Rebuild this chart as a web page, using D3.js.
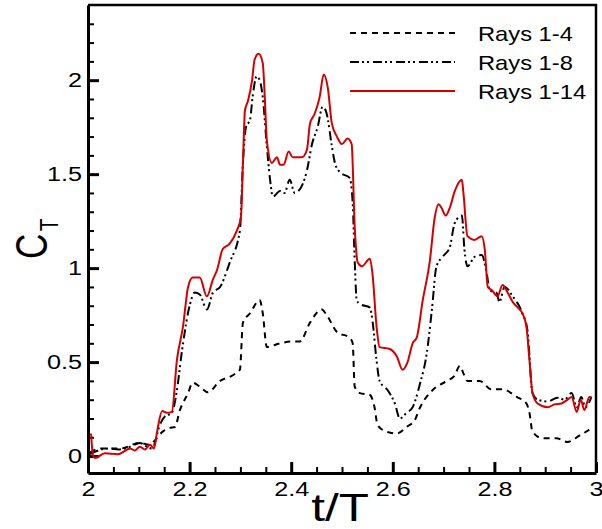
<!DOCTYPE html>
<html>
<head>
<meta charset="utf-8">
<script src="https://cdn.jsdelivr.net/npm/d3@7"></script>
<style>
  body { margin: 0; background: #fff; }
  svg { font-family: "Liberation Sans", Arial, sans-serif; }
  .axis text { font-size: 21px; fill: #000; }
  .axis path { stroke: #000; stroke-width: 3px; }
  .axis line { stroke: #000; stroke-width: 2px; }
  .legend text { font-size: 21px; }
</style>
</head>
<body>
<svg width="602" height="529"></svg>
<script>
// Rays 1-4 (dashed)
var tRays4 = [2.004, 2.024, 2.063, 2.102, 2.122, 2.132, 2.147, 2.161, 2.171, 2.181,
  2.197, 2.206, 2.220, 2.236, 2.260, 2.285, 2.299, 2.305, 2.319, 2.338, 2.344, 2.352,
  2.378, 2.403, 2.417, 2.437, 2.460, 2.470, 2.490, 2.515, 2.521, 2.525, 2.535, 2.555,
  2.564, 2.570, 2.588, 2.608, 2.627, 2.643, 2.653, 2.678, 2.706, 2.722, 2.732, 2.739,
  2.747, 2.771, 2.794, 2.816, 2.844, 2.863, 2.869, 2.875, 2.895, 2.922, 2.944, 2.968, 2.987];
var cRays4 = [0.02, 0.04, 0.04, 0.07, 0.06, 0.085, 0.13, 0.15, 0.155, 0.245,
  0.335, 0.39, 0.37, 0.34, 0.40, 0.43, 0.46, 0.71, 0.76, 0.83, 0.76, 0.58,
  0.60, 0.61, 0.61, 0.71, 0.78, 0.75, 0.66, 0.63, 0.60, 0.37, 0.335, 0.325,
  0.26, 0.165, 0.13, 0.12, 0.155, 0.19, 0.255, 0.35, 0.40, 0.43, 0.48, 0.44,
  0.40, 0.40, 0.355, 0.355, 0.315, 0.28, 0.23, 0.13, 0.095, 0.095, 0.075, 0.11, 0.14];

// Rays 1-8 (dash-dot-dot)
var tRays8 = [2.004, 2.020, 2.040, 2.060, 2.083, 2.102, 2.116, 2.126, 2.142, 2.151,
  2.165, 2.175, 2.185, 2.201, 2.210, 2.220, 2.234, 2.246, 2.260, 2.279, 2.299, 2.305,
  2.311, 2.319, 2.324, 2.332, 2.338, 2.344, 2.352, 2.358, 2.364, 2.378, 2.387, 2.397,
  2.407, 2.423, 2.431, 2.441, 2.452, 2.462, 2.470, 2.480, 2.486, 2.496, 2.515, 2.521,
  2.525, 2.529, 2.535, 2.555, 2.560, 2.568, 2.574, 2.590, 2.604, 2.614, 2.627, 2.639,
  2.653, 2.667, 2.677, 2.686, 2.698, 2.712, 2.722, 2.736, 2.741, 2.747, 2.761, 2.775,
  2.785, 2.791, 2.804, 2.810, 2.820, 2.836, 2.855, 2.865, 2.875, 2.885, 2.905, 2.924,
  2.938, 2.952, 2.962, 2.971, 2.979, 2.991];
var cRays8 = [0.01, 0.03, 0.04, 0.035, 0.05, 0.07, 0.05, 0.04, 0.17, 0.21,
  0.23, 0.35, 0.56, 0.81, 0.87, 0.86, 0.78, 0.87, 0.90, 1.03, 1.20, 1.56,
  1.75, 1.79, 1.91, 2.02, 2.00, 1.91, 1.65, 1.48, 1.38, 1.41, 1.40, 1.47,
  1.40, 1.45, 1.52, 1.66, 1.75, 1.86, 1.82, 1.65, 1.56, 1.51, 1.48, 1.35,
  1.04, 0.83, 0.81, 0.79, 0.72, 0.51, 0.40, 0.35, 0.28, 0.20, 0.23, 0.26,
  0.38, 0.55, 0.78, 1.01, 1.06, 1.11, 1.24, 1.28, 1.10, 1.01, 1.06, 1.07,
  0.97, 0.88, 0.87, 0.82, 0.90, 0.85, 0.76, 0.67, 0.335, 0.30, 0.29, 0.31,
  0.30, 0.335, 0.26, 0.315, 0.26, 0.315];

// Rays 1-14 (solid red)
var tRays14 = [2.006, 2.010, 2.014, 2.033, 2.059, 2.083, 2.092, 2.102, 2.112, 2.122,
  2.130, 2.136, 2.146, 2.155, 2.165, 2.175, 2.187, 2.197, 2.206, 2.220, 2.234, 2.246,
  2.254, 2.265, 2.279, 2.293, 2.301, 2.305, 2.309, 2.315, 2.323, 2.328, 2.336, 2.344,
  2.348, 2.352, 2.362, 2.372, 2.378, 2.385, 2.395, 2.403, 2.421, 2.431, 2.437, 2.446,
  2.456, 2.464, 2.472, 2.480, 2.490, 2.500, 2.511, 2.519, 2.525, 2.531, 2.539, 2.555,
  2.560, 2.568, 2.574, 2.594, 2.608, 2.619, 2.629, 2.639, 2.647, 2.659, 2.673, 2.682,
  2.690, 2.696, 2.704, 2.712, 2.722, 2.736, 2.739, 2.747, 2.761, 2.775, 2.781, 2.787,
  2.796, 2.806, 2.816, 2.826, 2.836, 2.846, 2.855, 2.863, 2.869, 2.875, 2.885, 2.905,
  2.918, 2.932, 2.944, 2.952, 2.962, 2.970, 2.977, 2.987, 2.991];
var cRays14 = [0.12, 0.0, -0.01, 0.015, 0.01, 0.04, 0.03, 0.05, 0.035, 0.06,
  0.04, 0.13, 0.24, 0.23, 0.235, 0.51, 0.69, 0.90, 0.95, 0.95, 0.85, 0.94,
  0.99, 1.10, 1.13, 1.20, 1.27, 1.56, 1.84, 1.89, 2.00, 2.11, 2.14, 2.09,
  1.91, 1.68, 1.56, 1.59, 1.55, 1.55, 1.62, 1.59, 1.59, 1.63, 1.77, 1.82,
  1.91, 2.03, 1.96, 1.77, 1.70, 1.66, 1.69, 1.66, 1.22, 1.03, 1.01, 1.05,
  0.97, 0.69, 0.58, 0.57, 0.53, 0.46, 0.50, 0.60, 0.63, 0.83, 1.04, 1.26,
  1.34, 1.32, 1.28, 1.32, 1.41, 1.47, 1.40, 1.17, 1.15, 1.17, 1.10, 0.90,
  0.88, 0.85, 0.91, 0.87, 0.82, 0.79, 0.76, 0.69, 0.51, 0.335, 0.28, 0.26,
  0.275, 0.28, 0.30, 0.315, 0.235, 0.30, 0.245, 0.315, 0.315];

var seriesNames = ["Rays 1-4", "Rays 1-8", "Rays 1-14"];
var xTicks = [2, 2.2, 2.4, 2.6, 2.8, 3];
var yTicks = [0, 0.5, 1, 1.5, 2];

var series = [
  { name: seriesNames[0], t: tRays4, c: cRays4, color: "#000", dash: "6,5" },
  { name: seriesNames[1], t: tRays8, c: cRays8, color: "#000", dash: "9,3,2,3,2,4" },
  { name: seriesNames[2], t: tRays14, c: cRays14, color: "#d40000", dash: null }
];

var STRETCH = 1.2;  // the original font is drawn wider than Arial

var svg = d3.select("svg"),
    margin = {top: 5, right: 6, bottom: 56, left: 88},
    width = +svg.attr("width") - margin.left - margin.right,
    height = +svg.attr("height") - margin.top - margin.bottom;

var x = d3.scaleLinear().domain([2, 3]).range([0, width]);
var y = d3.scaleLinear().domain([-0.09, 2.4]).range([height, 0]);

var g = svg.append("g")
    .attr("transform", "translate(" + margin.left + "," + margin.top + ")");

g.append("clipPath").attr("id", "clip")
  .append("rect").attr("width", width).attr("height", height);

// minor ticks
var xMinor = d3.range(2, 3.001, 0.05).filter(function(v) {
  return Math.abs(v * 5 - Math.round(v * 5)) > 1e-6;
});
var yMinor = d3.range(0, 2.4, 0.1).filter(function(v) {
  return Math.abs(v * 2 - Math.round(v * 2)) > 1e-6;
});

g.append("g")
    .attr("class", "axis minor")
    .attr("transform", "translate(0," + height + ")")
    .call(d3.axisBottom(x).tickValues(xMinor).tickSize(-6).tickFormat(""))
    .call(function(s) { s.select(".domain").remove(); });

g.append("g")
    .attr("class", "axis minor")
    .call(d3.axisLeft(y).tickValues(yMinor).tickSize(-6).tickFormat(""))
    .call(function(s) { s.select(".domain").remove(); });

// major ticks with labels
var gx = g.append("g")
    .attr("class", "axis axis--x")
    .attr("transform", "translate(0," + height + ")")
    .call(d3.axisBottom(x).tickValues(xTicks).tickSizeInner(-11).tickSizeOuter(0)
      .tickPadding(8).tickFormat(d3.format("")));
gx.selectAll("line").style("stroke-width", "3px");
gx.selectAll("text").attr("transform", "scale(" + STRETCH + ",1)");

var gy = g.append("g")
    .attr("class", "axis axis--y")
    .call(d3.axisLeft(y).tickValues(yTicks).tickSizeInner(-11).tickSizeOuter(0)
      .tickPadding(5).tickFormat(d3.format("")));
gy.selectAll("line").style("stroke-width", "3px");
gy.selectAll("text").attr("transform", "scale(" + STRETCH + ",1)");

// top and right frame
g.append("path")
    .attr("d", "M0,0H" + width + "V" + height)
    .attr("fill", "none")
    .attr("stroke", "#000")
    .attr("stroke-width", 2.5);

// curves
var line = d3.line()
    .x(function(d) { return x(d[0]); })
    .y(function(d) { return y(d[1]); })
    .curve(d3.curveMonotoneX);

series.forEach(function(s) {
  var pts = s.t.map(function(t, i) { return [t, s.c[i]]; });
  g.append("path")
      .attr("clip-path", "url(#clip)")
      .attr("d", line(pts))
      .attr("fill", "none")
      .attr("stroke", s.color)
      .attr("stroke-width", 2)
      .attr("stroke-dasharray", s.dash);
});

// legend
var legend = svg.append("g").attr("class", "legend");
series.forEach(function(s, i) {
  var ly = 33 + i * 29;
  legend.append("line")
      .attr("x1", 350).attr("x2", 455)
      .attr("y1", ly).attr("y2", ly)
      .attr("stroke", s.color)
      .attr("stroke-width", 2)
      .attr("stroke-dasharray", s.dash);
  legend.append("text")
      .attr("transform", "translate(478," + (ly + 8) + ") scale(1.13,1)")
      .text(s.name);
});

// axis titles
svg.append("text")
    .attr("transform", "translate(340,521) scale(1.3,1)")
    .attr("text-anchor", "middle")
    .style("font-size", "38px")
    .text("t/T");

var yl = svg.append("text")
    .attr("transform", "translate(47,259) rotate(-90) scale(0.8,1)")
    .style("font-size", "44px");
yl.append("tspan").text("C");
yl.append("tspan").attr("dx", 3).attr("dy", 11).style("font-size", "26px").text("T");
</script>
</body>
</html>
